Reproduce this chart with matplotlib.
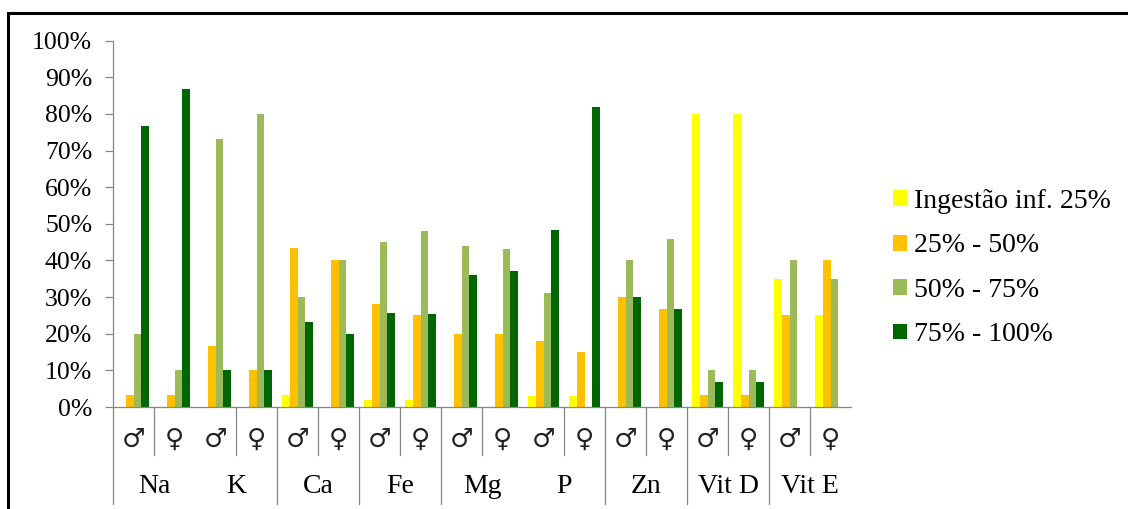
import matplotlib
matplotlib.use("Agg")
import numpy as np
import matplotlib.pyplot as plt
from matplotlib.patches import Rectangle, Patch
from matplotlib.transforms import blended_transform_factory

# Dados (% dos indivíduos por faixa de ingestão)
nutrientes = ["Na", "K", "Ca", "Fe", "Mg", "P", "Zn", "Vit D", "Vit E"]
sexos = ["\u2642", "\u2640"]

inf25 = [0, 0, 0, 0, 3.3, 0, 2, 2, 0, 0, 3, 3, 0, 0, 80, 80, 35, 25]
f25_50 = [3.3, 3.3, 16.7, 10, 43.3, 40, 28, 25, 20, 20, 18, 15, 30, 26.7, 3.3, 3.3, 25, 40]
f50_75 = [20, 10, 73.3, 80, 30, 40, 45, 48, 44, 43, 31, 0, 40, 46, 10, 10, 40, 35]
f75_100 = [76.7, 86.8, 10, 10, 23.3, 20, 25.6, 25.3, 36, 37, 48.3, 82, 30, 26.7, 6.7, 6.7, 0, 0]

series = [inf25, f25_50, f50_75, f75_100]
legendas = ["Ingestão inf. 25%", "25% - 50%", "50% - 75%", "75% - 100%"]
cores = ["#FFFF00", "#FFC000", "#9BBB59", "#006600"]

# separadores entre grupos (o original não tem linha entre Na/K e Mg/P)
sep_longos = [0, 2, 3, 4, 6, 7, 8]

W, H = 1128, 509
fig = plt.figure(figsize=(W / 100, H / 100), dpi=100)
ax = fig.add_axes([113 / W, 1 - 407 / H, (851 - 113) / W, (407 - 40.7) / H])

serif = ["Liberation Serif", "DejaVu Serif", "DejaVu Sans"]
cinza = "#868686"

n = len(inf25)
x = np.arange(n)
largura = 0.183
for i, (vals, cor, lab) in enumerate(zip(series, cores, legendas)):
    ax.bar(x + (i - 1.5) * largura, vals, largura, color=cor, label=lab, linewidth=0)

ax.set_xlim(-0.5, n - 0.5)
ax.set_ylim(0, 100)
ax.set_yticks(range(0, 101, 10))
ax.set_yticklabels([f"{v}%" for v in range(0, 101, 10)], family=serif, fontsize=18.5)
ax.set_xticks([])
ax.tick_params(axis="y", length=6, width=0.9, color=cinza, pad=9)

for s in ["top", "right"]:
    ax.spines[s].set_visible(False)
for s in ["left", "bottom"]:
    ax.spines[s].set_color(cinza)
    ax.spines[s].set_linewidth(0.9)

trans = blended_transform_factory(ax.transData, ax.transAxes)

# linhas curtas entre sexos e longas entre grupos
for k in range(n):
    xs = k - 0.5
    if k % 2 == 1:
        ax.plot([xs, xs], [0, -0.131], transform=trans, color=cinza, lw=0.9, clip_on=False)
for g in sep_longos:
    xs = 2 * g - 0.5
    ax.plot([xs, xs], [0, -0.265], transform=trans, color=cinza, lw=0.9, clip_on=False)

for k in range(n):
    ax.text(k, -0.088, sexos[k % 2], transform=trans, ha="center", va="center",
            fontsize=19, family=["DejaVu Serif", "DejaVu Sans"], color="#222222")
for g, nome in enumerate(nutrientes):
    ax.text(2 * g + 0.5, -0.218, nome, transform=trans, ha="center", va="center",
            fontsize=20, family=serif)

handles = [Patch(facecolor=c, edgecolor="none") for c in cores]
fig.legend(handles, legendas, loc="upper left", bbox_to_anchor=(893 / W, 1 - 189 / H),
           frameon=False, prop={"family": serif, "size": 20}, borderpad=0,
           borderaxespad=0, handlelength=0.5, handleheight=0.5, handletextpad=0.25,
           labelspacing=0.7)

# moldura cortada à direita e em baixo
fig.add_artist(Rectangle((7.5 / W, -0.1), 1.2, 1.1 - 13.5 / H, transform=fig.transFigure,
                         fill=False, edgecolor="black", linewidth=2.2))

fig.savefig("out.png", dpi=100)
